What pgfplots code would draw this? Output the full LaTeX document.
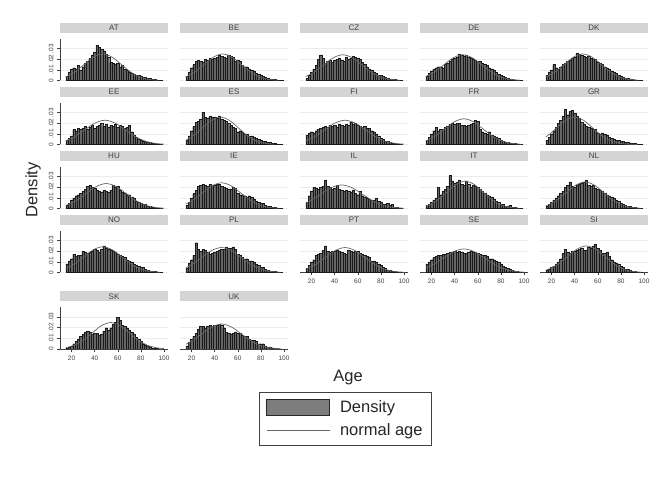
\documentclass[border=0pt]{standalone}
\usepackage{fontspec}
\setmainfont{Liberation Sans}
\usepackage{pgfplots}
\usepackage{pgfplotstable}
\pgfplotsset{compat=1.18}

\definecolor{barfill}{gray}{0.40}
\definecolor{headgray}{gray}{0.83}
\definecolor{gridgray}{gray}{0.92}
\definecolor{curvegray}{gray}{0.40}
\definecolor{inkgray}{gray}{0.25}

% Age histograms (2-year bins, density scale), one column per country
\pgfplotstableread{
age AT BE CZ DE DK EE ES FI FR GR HU IE IL IT NL NO PL PT SE SI SK UK
16 0.004 0.004 0.002 0.004 0.005 0.004 0.004 0.009 0.004 0.004 0.003 0.003 0.006 0.003 0.002 0.008 0.004 0.004 0.008 0.002 0.001 0.003
18 0.008 0.008 0.005 0.007 0.008 0.006 0.008 0.011 0.007 0.007 0.005 0.006 0.012 0.004 0.004 0.011 0.009 0.007 0.010 0.003 0.002 0.006
20 0.011 0.012 0.008 0.009 0.010 0.008 0.013 0.012 0.010 0.010 0.008 0.010 0.016 0.006 0.006 0.013 0.012 0.010 0.012 0.005 0.003 0.009
22 0.012 0.015 0.011 0.011 0.015 0.014 0.017 0.011 0.013 0.013 0.010 0.014 0.020 0.008 0.008 0.017 0.016 0.012 0.014 0.006 0.005 0.012
24 0.011 0.018 0.014 0.012 0.012 0.013 0.021 0.013 0.016 0.016 0.012 0.017 0.019 0.010 0.010 0.015 0.028 0.016 0.015 0.008 0.007 0.015
26 0.014 0.019 0.020 0.013 0.011 0.015 0.022 0.014 0.013 0.020 0.013 0.021 0.018 0.020 0.012 0.016 0.022 0.017 0.016 0.010 0.009 0.019
28 0.010 0.018 0.024 0.013 0.013 0.014 0.024 0.015 0.014 0.023 0.014 0.022 0.020 0.013 0.014 0.016 0.020 0.018 0.016 0.013 0.012 0.021
30 0.013 0.017 0.021 0.012 0.015 0.015 0.030 0.016 0.014 0.027 0.016 0.023 0.021 0.016 0.016 0.020 0.022 0.021 0.017 0.018 0.014 0.021
32 0.016 0.020 0.016 0.015 0.016 0.017 0.026 0.017 0.016 0.033 0.018 0.022 0.027 0.018 0.020 0.019 0.021 0.025 0.017 0.022 0.016 0.020
34 0.018 0.019 0.018 0.016 0.018 0.014 0.025 0.016 0.017 0.028 0.021 0.021 0.021 0.021 0.022 0.018 0.019 0.020 0.018 0.019 0.017 0.021
36 0.021 0.021 0.019 0.018 0.019 0.016 0.027 0.018 0.019 0.031 0.022 0.023 0.020 0.031 0.025 0.019 0.017 0.019 0.019 0.018 0.016 0.022
38 0.024 0.020 0.017 0.020 0.021 0.018 0.026 0.017 0.020 0.032 0.020 0.022 0.018 0.026 0.021 0.020 0.018 0.020 0.019 0.020 0.014 0.021
40 0.027 0.021 0.019 0.021 0.022 0.015 0.026 0.018 0.019 0.029 0.019 0.022 0.019 0.024 0.020 0.022 0.019 0.020 0.020 0.020 0.015 0.022
42 0.033 0.022 0.020 0.022 0.026 0.017 0.025 0.016 0.020 0.027 0.017 0.023 0.022 0.025 0.022 0.021 0.020 0.021 0.019 0.021 0.015 0.022
44 0.031 0.024 0.021 0.025 0.025 0.018 0.027 0.019 0.020 0.025 0.016 0.023 0.018 0.027 0.023 0.019 0.021 0.020 0.020 0.022 0.013 0.023
46 0.029 0.023 0.019 0.024 0.024 0.020 0.024 0.018 0.018 0.021 0.015 0.021 0.017 0.023 0.024 0.022 0.022 0.019 0.019 0.023 0.014 0.022
48 0.028 0.022 0.018 0.023 0.023 0.017 0.023 0.017 0.018 0.019 0.017 0.020 0.016 0.022 0.025 0.025 0.022 0.018 0.018 0.021 0.017 0.020
50 0.025 0.021 0.022 0.024 0.022 0.019 0.022 0.019 0.017 0.017 0.016 0.019 0.017 0.026 0.027 0.023 0.024 0.017 0.018 0.021 0.020 0.016
52 0.022 0.024 0.020 0.022 0.023 0.016 0.020 0.018 0.018 0.016 0.015 0.018 0.016 0.023 0.022 0.022 0.023 0.021 0.019 0.024 0.018 0.015
54 0.017 0.023 0.021 0.021 0.021 0.018 0.018 0.021 0.019 0.015 0.017 0.018 0.015 0.020 0.021 0.021 0.023 0.020 0.020 0.023 0.020 0.014
56 0.016 0.022 0.023 0.020 0.020 0.017 0.016 0.019 0.020 0.014 0.022 0.020 0.017 0.022 0.022 0.020 0.024 0.019 0.019 0.025 0.023 0.015
58 0.015 0.018 0.022 0.019 0.020 0.019 0.015 0.020 0.023 0.014 0.020 0.019 0.014 0.021 0.019 0.019 0.022 0.020 0.019 0.027 0.025 0.016
60 0.016 0.019 0.021 0.018 0.017 0.016 0.012 0.018 0.022 0.011 0.021 0.014 0.013 0.020 0.018 0.017 0.017 0.020 0.018 0.023 0.030 0.015
62 0.013 0.018 0.020 0.018 0.016 0.018 0.013 0.017 0.014 0.010 0.017 0.013 0.016 0.018 0.017 0.016 0.016 0.018 0.017 0.021 0.027 0.015
64 0.014 0.014 0.017 0.016 0.015 0.017 0.012 0.016 0.012 0.011 0.015 0.013 0.012 0.016 0.016 0.015 0.014 0.017 0.016 0.018 0.022 0.013
66 0.011 0.013 0.015 0.015 0.013 0.015 0.010 0.017 0.011 0.010 0.014 0.012 0.011 0.014 0.014 0.014 0.013 0.016 0.016 0.018 0.021 0.012
68 0.010 0.013 0.013 0.014 0.012 0.016 0.010 0.015 0.010 0.009 0.013 0.011 0.010 0.013 0.013 0.012 0.013 0.015 0.015 0.019 0.020 0.012
70 0.008 0.011 0.011 0.012 0.011 0.018 0.008 0.015 0.012 0.007 0.013 0.012 0.009 0.012 0.012 0.011 0.011 0.014 0.013 0.015 0.018 0.009
72 0.007 0.010 0.010 0.011 0.009 0.012 0.008 0.013 0.009 0.006 0.011 0.011 0.008 0.011 0.011 0.010 0.011 0.011 0.013 0.012 0.016 0.008
74 0.006 0.009 0.008 0.010 0.008 0.009 0.007 0.012 0.008 0.005 0.010 0.009 0.008 0.009 0.010 0.008 0.010 0.011 0.012 0.010 0.014 0.008
76 0.005 0.007 0.007 0.008 0.007 0.007 0.006 0.010 0.007 0.004 0.007 0.007 0.010 0.007 0.008 0.007 0.008 0.010 0.011 0.009 0.011 0.007
78 0.005 0.006 0.005 0.006 0.005 0.005 0.005 0.008 0.006 0.004 0.006 0.006 0.007 0.006 0.007 0.006 0.007 0.008 0.010 0.008 0.009 0.005
80 0.004 0.005 0.005 0.005 0.004 0.004 0.004 0.006 0.004 0.003 0.005 0.005 0.006 0.004 0.005 0.005 0.005 0.007 0.008 0.006 0.007 0.005
82 0.003 0.004 0.004 0.004 0.003 0.003 0.003 0.005 0.003 0.003 0.004 0.005 0.004 0.004 0.004 0.005 0.005 0.005 0.006 0.005 0.005 0.005
84 0.003 0.003 0.003 0.003 0.002 0.003 0.003 0.003 0.002 0.002 0.004 0.003 0.004 0.002 0.003 0.003 0.003 0.004 0.005 0.003 0.004 0.003
86 0.002 0.002 0.002 0.002 0.002 0.002 0.002 0.003 0.002 0.002 0.002 0.002 0.005 0.002 0.002 0.002 0.002 0.002 0.004 0.003 0.003 0.002
88 0.002 0.0015 0.0015 0.0015 0.0015 0.002 0.002 0.002 0.001 0.0015 0.002 0.002 0.003 0.003 0.002 0.0015 0.0015 0.002 0.003 0.002 0.002 0.002
90 0.001 0.001 0.001 0.001 0.001 0.001 0.001 0.001 0.001 0.001 0.001 0.001 0.004 0.001 0.001 0.001 0.001 0.001 0.002 0.001 0.001 0.001
92 0.001 0.001 0.0008 0.0007 0.0007 0.001 0.0008 0.0008 0.001 0.001 0.0008 0.0008 0.001 0.001 0.0008 0.001 0.0008 0.0008 0.0015 0.001 0.001 0.0008
94 0.0005 0.0005 0.0004 0.0004 0.0004 0.0005 0.0004 0.0004 0.0005 0.0005 0.0004 0.0004 0.001 0.0005 0.0004 0.0005 0.0004 0.0004 0.001 0.0005 0.0005 0.0004
96 0.0003 0.0003 0.0002 0.0002 0.0002 0.0003 0.0002 0.0002 0.0002 0.0002 0.0002 0.0002 0.0003 0.0002 0.0002 0.0002 0.0002 0.0002 0.0005 0.0002 0.0002 0.0002
98 0 0.0002 0 0 0 0 0 0 0 0 0 0 0 0 0 0 0 0 0.0002 0 0 0
}\hist

\pgfplotsset{
  panel/.style={
    scale only axis, width=108pt, height=41.5pt, anchor=south west,
    xmin=10, xmax=103.5, ymin=0, ymax=0.039,
    xtick={20,40,60,80,100}, ytick={0,0.01,0.02,0.03},
    scaled y ticks=false, scaled x ticks=false,
    xticklabels={}, yticklabels={},
    axis lines*=left, axis line style={draw=none}, tick style={draw=none},
    tick align=outside, major tick length=3pt,
    ymajorgrids, grid style={draw=gridgray, line width=0.5pt},
    ticklabel style={font=\fontsize{6.5}{7}\selectfont, text=inkgray},
    title style={at={(0.5,1)}, anchor=south, yshift=0pt, fill=headgray,
      minimum width=108pt, minimum height=10pt, inner sep=0pt,
      font=\fontsize{8}{9}\selectfont, text=inkgray},
  },
  leftcol/.style={y axis line style={draw=inkgray, line width=0.5pt},
    ytick style={draw=inkgray, line width=0.5pt},
    yticklabels={0,.01,.02,.03}, yticklabel style={rotate=90, anchor=south}},
  bottomrow/.style={x axis line style={draw=inkgray, line width=0.5pt},
    xtick style={draw=inkgray, line width=0.5pt},
    xticklabels={20,40,60,80,100}},
  histbars/.style={ybar, bar width=2, bar shift=0pt, fill=barfill,
    draw=black!90, line width=0.3pt,
    legend image code/.code={\draw[fill=barfill!85!white, draw=black!85, line width=0.6pt]
      (0pt,-8pt) rectangle (63pt,8pt);}},
  normcurve/.style={smooth, draw=curvegray, line width=0.7pt, mark=none,
    legend image code/.code={\draw[curvegray, line width=0.8pt] (0pt,0pt) -- (63pt,0pt);}},
}

% one panel: x, y of the lower left corner, country, extra keys, normal curve
\newcommand\panel[5]{%
  \begin{axis}[panel, at={(#1pt,#2pt)}, title={#3}, #4]
    \addplot[histbars] table[x=age, y=#3] {\hist};
    \addplot[normcurve] coordinates {#5};
  \end{axis}}

\begin{document}
\begin{tikzpicture}[x=1pt, y=1pt]
\path[use as bounding box] (0,0) rectangle (663,486);

% row 1
\panel{60}{405.5}{AT}{leftcol}{(15,0.003375) (23,0.008095) (31,0.01512) (39,0.02200) (47,0.02493) (55,0.02200) (63,0.01512) (71,0.008095) (79,0.003375) (87,0.001096) (95,0.000277)}
\panel{180}{405.5}{BE}{}{(15,0.003375) (23,0.008095) (31,0.01512) (39,0.02200) (47,0.02493) (55,0.02200) (63,0.01512) (71,0.008095) (79,0.003375) (87,0.001096) (95,0.000277)}
\panel{300}{405.5}{CZ}{}{(15,0.003690) (22.25,0.007849) (30.5,0.01466) (38.75,0.02134) (47,0.02418) (55.25,0.02134) (63.5,0.01466) (71.75,0.007849) (80,0.003272) (88.25,0.001062) (96.5,0.000269)}
\panel{420}{405.5}{DE}{}{(15,0.003690) (22.25,0.007849) (30.5,0.01466) (38.75,0.02134) (47,0.02418) (55.25,0.02134) (63.5,0.01466) (71.75,0.007849) (80,0.003272) (88.25,0.001062) (96.5,0.000269)}
\panel{540}{405.5}{DK}{}{(15,0.003375) (23,0.008095) (31,0.01512) (39,0.02200) (47,0.02493) (55,0.02200) (63,0.01512) (71,0.008095) (79,0.003375) (87,0.001096) (95,0.000277)}

% row 2
\panel{60}{341.5}{EE}{leftcol}{(15,0.003452) (22.75,0.007401) (31.5,0.01383) (40.25,0.02012) (49,0.02280) (57.75,0.02012) (66.5,0.01383) (75.25,0.007401) (84,0.003085) (92.75,0.001002) (100,0.000326)}
\panel{180}{341.5}{ES}{}{(15,0.003957) (21.75,0.008356) (29.5,0.01561) (37.25,0.02271) (45,0.02574) (52.75,0.02271) (60.5,0.01561) (68.25,0.008356) (76,0.003483) (83.75,0.001131) (91.5,0.000286)}
\panel{300}{341.5}{FI}{}{(15,0.003452) (22.75,0.007401) (31.5,0.01383) (40.25,0.02012) (49,0.02280) (57.75,0.02012) (66.5,0.01383) (75.25,0.007401) (84,0.003085) (92.75,0.001002) (100,0.000326)}
\panel{420}{341.5}{FR}{}{(15,0.003272) (23.25,0.007849) (31.5,0.01466) (39.75,0.02134) (48,0.02418) (56.25,0.02134) (64.5,0.01466) (72.75,0.007849) (81,0.003272) (89.25,0.001062) (97.5,0.000269)}
\panel{540}{341.5}{GR}{}{(15,0.007008) (20,0.011197) (24.5,0.01561) (32.25,0.02271) (40,0.02574) (47.75,0.02271) (55.5,0.01561) (63.25,0.008356) (71,0.003483) (78.75,0.001131) (86.5,0.000286) (94.25,0.000056)}

% row 3
\panel{60}{277.5}{HU}{leftcol}{(15,0.002819) (24.5,0.007619) (33,0.01423) (41.5,0.02071) (50,0.02347) (58.5,0.02071) (67,0.01423) (75.5,0.007619) (84,0.003176) (92.5,0.001031) (100,0.000311)}
\panel{180}{277.5}{IE}{}{(15,0.004139) (21.25,0.007849) (29.5,0.01466) (37.75,0.02134) (46,0.02418) (54.25,0.02134) (62.5,0.01466) (70.75,0.007849) (79,0.003272) (87.25,0.001062) (95.5,0.000269)}
\panel{300}{277.5}{IL}{}{(15,0.005031) (19,0.007195) (28,0.01344) (37,0.01956) (46,0.02216) (55,0.01956) (64,0.01344) (73,0.007195) (82,0.002999) (91,0.000974) (100,0.000246)}
\panel{420}{277.5}{IT}{}{(15,0.002322) (18,0.003483) (25.75,0.008356) (33.5,0.01561) (41.25,0.02271) (49,0.02574) (56.75,0.02271) (64.5,0.01561) (72.25,0.008356) (80,0.003483) (87.75,0.001131) (95.5,0.000286)}
\panel{540}{277.5}{NL}{}{(15,0.002608) (17,0.003375) (25,0.008095) (33,0.01512) (41,0.02200) (49,0.02493) (57,0.02200) (65,0.01512) (73,0.008095) (81,0.003375) (89,0.001096) (97,0.000277)}

% row 4
\panel{60}{213.5}{NO}{leftcol}{(15,0.003690) (22.25,0.007849) (30.5,0.01466) (38.75,0.02134) (47,0.02418) (55.25,0.02134) (63.5,0.01466) (71.75,0.007849) (80,0.003272) (88.25,0.001062) (96.5,0.000269)}
\panel{180}{213.5}{PL}{}{(15,0.004450) (20.5,0.007619) (29,0.01423) (37.5,0.02071) (46,0.02347) (54.5,0.02071) (63,0.01423) (71.5,0.007619) (80,0.003176) (88.5,0.001031) (97,0.000261)}
\panel{300}{213.5}{PT}{bottomrow}{(15,0.003176) (23.5,0.007619) (32,0.01423) (40.5,0.02071) (49,0.02347) (57.5,0.02071) (66,0.01423) (74.5,0.007619) (83,0.003176) (91.5,0.001031) (100,0.000261)}
\panel{420}{213.5}{SE}{bottomrow}{(15,0.004127) (21,0.007195) (30,0.01344) (39,0.01956) (48,0.02216) (57,0.01956) (66,0.01344) (75,0.007195) (84,0.002999) (93,0.000974) (100,0.000342)}
\panel{540}{213.5}{SI}{bottomrow}{(15,0.002279) (18,0.003375) (26,0.008095) (34,0.01512) (42,0.02200) (50,0.02493) (58,0.02200) (66,0.01512) (74,0.008095) (82,0.003375) (90,0.001096) (98,0.000277)}

% row 5
\panel{60}{137}{SK}{leftcol, bottomrow}{(15,0.001278) (22,0.003375) (30,0.008095) (38,0.01512) (46,0.02200) (54,0.02493) (62,0.02200) (70,0.01512) (78,0.008095) (86,0.003375) (94,0.001096) (100,0.000400)}

\begin{axis}[panel, bottomrow, at={(180pt,137pt)}, title={UK},
    legend cell align=left,
    legend style={at={(0.731,-1.036)}, anchor=north west, draw=inkgray,
      line width=0.6pt, font=\fontsize{16.5}{18}\selectfont,
      inner xsep=7pt, inner ysep=6pt, row sep=6pt, column sep=8pt,
      nodes={inner sep=2pt, text=black!85}}]
  \addplot[histbars] table[x=age, y=UK] {\hist};
  \addlegendentry{Density}
  \addplot[normcurve] coordinates {(15,0.004450) (20.5,0.007619) (29,0.01423) (37.5,0.02071) (46,0.02347) (54.5,0.02071) (63,0.01423) (71.5,0.007619) (80,0.003176) (88.5,0.001031) (97,0.000261)};
  \addlegendentry{normal age}
\end{axis}

\node[rotate=90, font=\fontsize{16.5}{18}\selectfont, text=black!85] at (33,296) {Density};
\node[font=\fontsize{16.5}{18}\selectfont, text=black!85] at (348,108) {Age};
\end{tikzpicture}
\end{document}
